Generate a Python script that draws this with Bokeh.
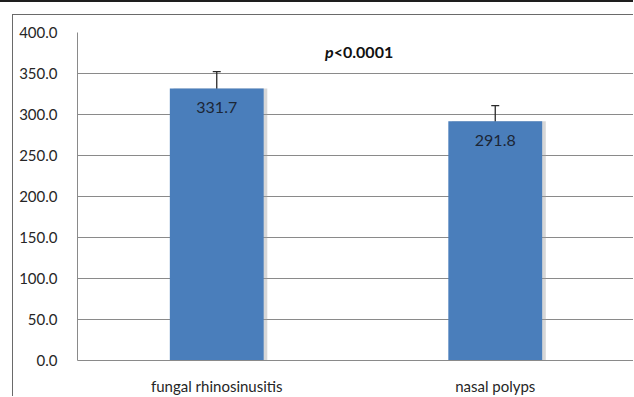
from bokeh.plotting import figure
from bokeh.models import (ColumnDataSource, FactorRange, FixedTicker, NumeralTickFormatter,
                          Whisker, TeeHead)
from bokeh.transform import dodge
from bokeh.layouts import column
from bokeh.core.properties import value
from bokeh.embed import file_html
from bokeh.resources import INLINE

categories = ["fungal rhinosinusitis", "nasal polyps"]
means = [331.7, 291.8]
errors = [20.5, 19.0]
labels = ["331.7", "291.8"]
y_ticks = [0, 50, 100, 150, 200, 250, 300, 350, 400]
p_text_italic = "p"
p_text_rest = "<0.0001"
p_y = 377

src = ColumnDataSource(dict(
    cat=categories,
    value=means,
    upper=[m + e for m, e in zip(means, errors)],
    lower=[m - e for m, e in zip(means, errors)],
    label=labels,
))

FONT = "Lato"

p = figure(x_range=FactorRange(*categories), y_range=(0, 400),
           width=621, height=382, output_backend="svg", toolbar_location=None,
           min_border_left=64, min_border_top=17, min_border_bottom=34, min_border_right=0)
p.outline_line_color = None
p.background_fill_color = "white"
p.border_fill_color = "white"

# shadow
p.vbar(x=dodge("cat", 0.013, range=p.x_range), top="value", width=0.337, source=src,
       fill_color="#9a9a9a", fill_alpha=0.4, line_color=None)
p.vbar(x="cat", top="value", width=0.337, source=src,
       fill_color="#4a7ebb", line_color=None)

p.text(x="cat", y="value", text="label", source=src, y_offset=19,
       text_align="center", text_baseline="middle", text_font=value(FONT),
       text_font_size="16px", text_color="#1c2636")

wh = Whisker(base="cat", upper="upper", lower="lower", source=src, dimension="height",
             line_color="#2a2a2a", line_width=1.3,
             upper_head=TeeHead(size=8, line_color="#2a2a2a", line_width=1.3),
             lower_head=TeeHead(size=8, line_color="#2a2a2a", line_width=1.3))
p.add_layout(wh)

# p-value annotation between the categories
psrc = ColumnDataSource(dict(cat=[categories[0]], y=[p_y], a=[p_text_italic], b=[p_text_rest]))
p.text(x=dodge("cat", 0.42, range=p.x_range), y="y", text="a", source=psrc,
       text_align="right", text_baseline="middle", text_font=value(FONT),
       text_font_style="bold italic", text_font_size="16px", text_color="#111111")
p.text(x=dodge("cat", 0.42, range=p.x_range), y="y", text="b", source=psrc,
       text_align="left", text_baseline="middle", text_font=value(FONT),
       text_font_style="bold", text_font_size="16px", text_color="#111111")

p.yaxis.ticker = FixedTicker(ticks=y_ticks)
p.yaxis.formatter = NumeralTickFormatter(format="0.0")
for ax in (p.xaxis, p.yaxis):
    ax.axis_line_color = "#8a8a8a"
    ax.major_tick_line_color = None
    ax.minor_tick_line_color = None
    ax.major_label_text_font = FONT
    ax.major_label_text_color = "#262626"
    ax.major_label_text_font_size = "15px"
p.yaxis.major_label_standoff = 14
p.xaxis.major_label_standoff = 10
p.xgrid.grid_line_color = None
p.ygrid.grid_line_color = "#8a8a8a"
p.ygrid.ticker = FixedTicker(ticks=y_ticks)

p.styles = {"border-left": "1px solid #6a6a6a", "border-top": "1px solid #6a6a6a"}

layout = column(p, styles={"border-top": "2px solid #1e1e1e", "padding-top": "12px",
                           "padding-left": "12px"})

open("out.html", "w").write(file_html(layout, INLINE))
